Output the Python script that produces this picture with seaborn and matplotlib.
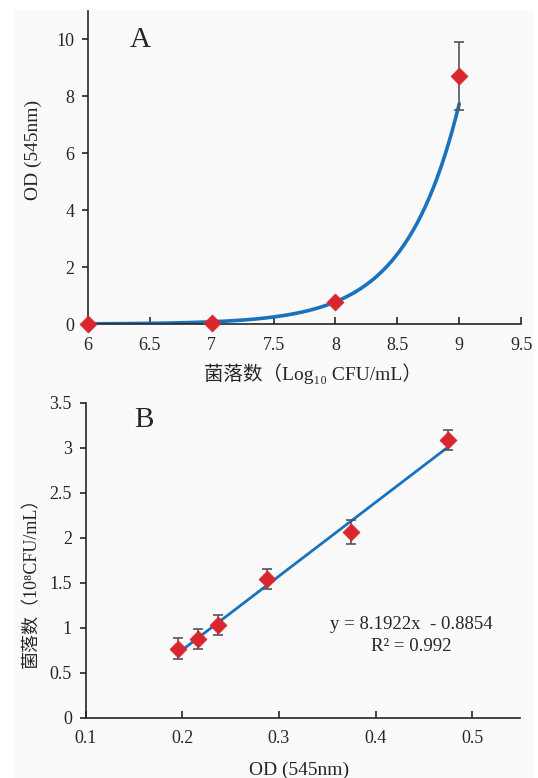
import numpy as np
import pandas as pd
import matplotlib
matplotlib.use("Agg")
import matplotlib.pyplot as plt
from matplotlib.patches import Rectangle
import seaborn as sns

# --- panel A: OD vs log10 colony count ---
log_cfu = [6, 7, 8, 9]
od_a = [0.0, 0.04, 0.78, 8.70]
od_a_err = [0.0, 0.0, 0.0, 1.19]
# exponential trendline  y = a * exp(b * x)
exp_a = 8.46e-9
exp_b = 2.2925

# --- panel B: colony count vs OD ---
od_b = [0.196, 0.2166, 0.2366, 0.2874, 0.375, 0.475]
cfu_b = [0.765, 0.878, 1.03, 1.54, 2.065, 3.086]
cfu_b_err = [0.115, 0.11, 0.11, 0.11, 0.13, 0.115]
lin_slope = 8.1922
lin_icpt = -0.8854
r2 = 0.992

red = "#d9262e"
blue = "#1a72bf"
errc = "#555555"

sns.set_style("ticks")
plt.rcParams["font.family"] = ["Liberation Serif", "Noto Sans CJK SC", "DejaVu Serif"]
plt.rcParams["axes.linewidth"] = 1.2
plt.rcParams["xtick.major.width"] = 1.2
plt.rcParams["ytick.major.width"] = 1.2

fig = plt.figure(figsize=(5.38, 7.78), dpi=100, facecolor="white")
fig.patches.append(Rectangle((15 / 538, 0), 517 / 538, 0.987,
                             transform=fig.transFigure, color="#fafafa", zorder=-10))

ax1 = fig.add_axes([0.1636, 0.5835, 0.805, 0.403])
ax2 = fig.add_axes([0.1593, 0.0775, 0.808, 0.405])
for ax in (ax1, ax2):
    ax.set_facecolor("none")

# panel A
xs = np.linspace(min(log_cfu), max(log_cfu), 200)
curve = pd.DataFrame({"x": xs, "y": exp_a * np.exp(exp_b * xs)})
sns.lineplot(data=curve, x="x", y="y", ax=ax1, color=blue, lw=2.6, zorder=2)
ax1.errorbar(log_cfu, od_a, yerr=od_a_err, fmt="none", ecolor=errc,
             elinewidth=1.2, capsize=3.5, capthick=1.2, zorder=3)
sns.scatterplot(x=log_cfu, y=od_a, ax=ax1, marker="D", s=75, color=red,
                edgecolor=red, linewidth=0.5, zorder=4, clip_on=False)
ax1.set_xlim(6, 9.5)
ax1.set_ylim(0, 11)
ax1.set_xticks(np.arange(6, 9.51, 0.5))
ax1.set_xticklabels(["6", "6.5", "7", "7.5", "8", "8.5", "9", "9.5"])
ax1.set_yticks(range(0, 11, 2))
ax1.set_xlabel("菌落数（Log₁₀ CFU/mL）", fontsize=14)
ax1.set_ylabel("OD (545nm)", fontsize=14)
ax1.xaxis.set_label_coords(0.52, -0.125)
ax1.yaxis.set_label_coords(-0.106, 0.555)
ax1.text(0.12, 0.905, "A", transform=ax1.transAxes, fontsize=21, ha="center", va="center")

# panel B
xl = np.array([min(od_b), max(od_b)])
line = pd.DataFrame({"x": xl, "y": lin_slope * xl + lin_icpt})
sns.lineplot(data=line, x="x", y="y", ax=ax2, color=blue, lw=2.0, zorder=2)
ax2.errorbar(od_b, cfu_b, yerr=cfu_b_err, fmt="none", ecolor=errc,
             elinewidth=1.2, capsize=3.5, capthick=1.2, zorder=3)
sns.scatterplot(x=od_b, y=cfu_b, ax=ax2, marker="D", s=75, color=red,
                edgecolor=red, linewidth=0.5, zorder=4)
ax2.set_xlim(0.1, 0.55)
ax2.set_ylim(0, 3.5)
ax2.set_xticks([0.1, 0.2, 0.3, 0.4, 0.5])
ax2.set_xticklabels(["0.1", "0.2", "0.3", "0.4", "0.5"])
ax2.set_yticks(np.arange(0, 3.51, 0.5))
ax2.set_yticklabels(["0", "0.5", "1", "1.5", "2", "2.5", "3", "3.5"])
ax2.set_xlabel("OD (545nm)", fontsize=14)
ax2.set_ylabel("菌落数（10⁸CFU/mL）", fontsize=13)
ax2.xaxis.set_label_coords(0.49, -0.14)
ax2.yaxis.set_label_coords(-0.105, 0.442)
ax2.text(0.134, 0.945, "B", transform=ax2.transAxes, fontsize=21, ha="center", va="center")
ax2.text(0.4368, 1.03, f"y = {lin_slope}x  - {abs(lin_icpt)}", fontsize=13.5, ha="center", va="center")
ax2.text(0.4375, 0.79, f"R² = {r2}", fontsize=13.5, ha="center", va="center")

for ax in (ax1, ax2):
    sns.despine(ax=ax)
    ax.tick_params(axis="x", direction="in", length=5, labelsize=13, pad=9)
    ax.tick_params(axis="y", direction="out", length=4, labelsize=13, pad=6)

fig.savefig("out.png", dpi=100, facecolor=fig.get_facecolor())
